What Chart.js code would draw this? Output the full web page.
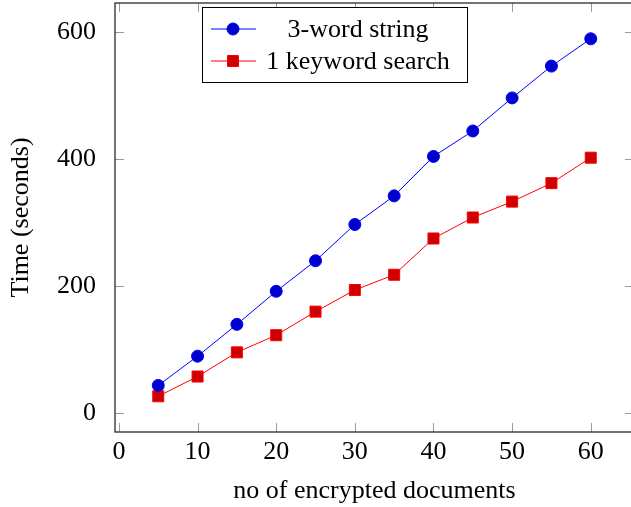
<!DOCTYPE html>
<html>
<head>
<meta charset="utf-8">
<script src="https://cdn.jsdelivr.net/npm/chart.js@4/dist/chart.umd.min.js"></script>
<style>
  html, body { margin: 0; padding: 0; background: #fff; overflow: hidden; }
  #wrap { width: 631px; height: 507px; overflow: hidden; position: relative; }
  canvas { display: block; }
</style>
</head>
<body>
<div id="wrap"><canvas id="c" width="634" height="507"></canvas></div>
<script>
// Number of encrypted documents on the x axis
const docs = [5, 10, 15, 20, 25, 30, 35, 40, 45, 50, 55, 60];
// Running time in seconds
const threeWordString = [44, 90, 140, 192, 240, 297, 342, 404, 444, 496, 546, 589];
const oneKeywordSearch = [27, 58, 96, 123, 160, 194, 218, 275, 308, 333, 362, 402];
// Axis ticks
const xTicks = [0, 10, 20, 30, 40, 50, 60];
const yTicks = [0, 200, 400, 600];

const FONT = "'Liberation Serif', 'DejaVu Serif', serif";
const FS = 26;

function pts(ys) { return docs.map((x, i) => ({ x: x, y: ys[i] })); }

function noPadding(s) {
  s.paddingTop = 0; s.paddingBottom = 0;
  s.paddingLeft = 0; s.paddingRight = 0;
}

// Frame with inward ticks on all four sides, pgfplots style
const framePlugin = {
  id: 'frame',
  beforeDatasetsDraw(chart) {
    const { ctx, chartArea: a, scales } = chart;
    const L = 9;
    ctx.save();
    ctx.strokeStyle = '#9a9a9a';
    ctx.lineWidth = 1;
    ctx.beginPath();
    xTicks.forEach(v => {
      const px = Math.round(scales.x.getPixelForValue(v)) + 0.5;
      ctx.moveTo(px, a.bottom); ctx.lineTo(px, a.bottom - L);
      ctx.moveTo(px, a.top); ctx.lineTo(px, a.top + L);
    });
    yTicks.forEach(v => {
      const py = Math.round(scales.y.getPixelForValue(v)) + 0.5;
      ctx.moveTo(a.left, py); ctx.lineTo(a.left + L, py);
      ctx.moveTo(a.right, py); ctx.lineTo(a.right - L, py);
    });
    ctx.stroke();
    ctx.strokeStyle = '#2a2a2a';
    ctx.lineWidth = 1.3;
    ctx.strokeRect(a.left, a.top, a.right - a.left, a.bottom - a.top);
    ctx.restore();
  }
};

// Boxed legend inside the plot, entries centred in their column
const legendPlugin = {
  id: 'boxLegend',
  afterDraw(chart) {
    const { ctx } = chart;
    const box = { x: 202.5, y: 7.5, w: 265, h: 75 };
    const rows = [29, 61];
    ctx.save();
    ctx.fillStyle = '#fff';
    ctx.fillRect(box.x, box.y, box.w, box.h);
    ctx.strokeStyle = '#000';
    ctx.lineWidth = 1;
    ctx.strokeRect(box.x, box.y, box.w, box.h);
    chart.data.datasets.forEach((ds, i) => {
      const y = rows[i];
      ctx.strokeStyle = ds.borderColor;
      ctx.lineWidth = ds.borderWidth;
      ctx.beginPath();
      ctx.moveTo(211, y); ctx.lineTo(256, y);
      ctx.stroke();
      ctx.fillStyle = ds.pointBackgroundColor;
      ctx.strokeStyle = ds.pointBorderColor;
      ctx.lineWidth = 1;
      Chart.helpers.drawPoint(ctx, {
        pointStyle: ds.pointStyle, radius: ds.pointRadius, borderWidth: 1, rotation: 0
      }, 233, y);
      ctx.fillStyle = '#000';
      ctx.font = FS + 'px ' + FONT;
      ctx.textAlign = 'center';
      ctx.textBaseline = 'middle';
      ctx.fillText(ds.label, 358, y + 1);
    });
    ctx.restore();
  }
};

new Chart(document.getElementById('c'), {
  type: 'line',
  data: {
    datasets: [
      {
        label: '3-word string',
        data: pts(threeWordString),
        borderColor: '#0000ff',
        borderWidth: 1,
        pointStyle: 'circle',
        pointRadius: 6,
        pointBackgroundColor: '#0000cc',
        pointBorderColor: '#0000ff',
        pointBorderWidth: 1,
        tension: 0
      },
      {
        label: '1 keyword search',
        data: pts(oneKeywordSearch),
        borderColor: '#ff0000',
        borderWidth: 1,
        pointStyle: 'rect',
        pointRadius: 7.8,
        pointBackgroundColor: '#cc0000',
        pointBorderColor: '#ff0000',
        pointBorderWidth: 1,
        tension: 0
      }
    ]
  },
  options: {
    responsive: false,
    devicePixelRatio: 1,
    animation: false,
    layout: { autoPadding: false, padding: { top: 3, right: 0, left: 0, bottom: 0 } },
    plugins: { legend: { display: false }, tooltip: { enabled: false } },
    elements: { point: { hoverRadius: 6 } },
    scales: {
      x: {
        type: 'linear',
        min: -0.5,
        max: 65.5,
        grid: { display: false },
        border: { display: false },
        afterBuildTicks(s) { s.ticks = xTicks.map(v => ({ value: v })); },
        afterFit(s) { s.height = 75; noPadding(s); },
        ticks: { color: '#000', font: { family: FONT, size: FS }, padding: -3, maxRotation: 0, autoSkip: false },
        title: {
          display: true, text: 'no of encrypted documents', color: '#000',
          font: { family: FONT, size: FS }, padding: { top: 0, bottom: 0 }
        }
      },
      y: {
        min: -29.2,
        max: 645.2,
        grid: { display: false },
        border: { display: false },
        afterBuildTicks(s) { s.ticks = yTicks.map(v => ({ value: v })); },
        afterFit(s) { s.width = 115; noPadding(s); },
        ticks: { color: '#000', font: { family: FONT, size: FS }, padding: 11, autoSkip: false },
        title: {
          display: true, text: 'Time (seconds)', color: '#000',
          font: { family: FONT, size: FS }, padding: { top: 6, bottom: 0 }
        }
      }
    }
  },
  plugins: [framePlugin, legendPlugin]
});
</script>
</body>
</html>
